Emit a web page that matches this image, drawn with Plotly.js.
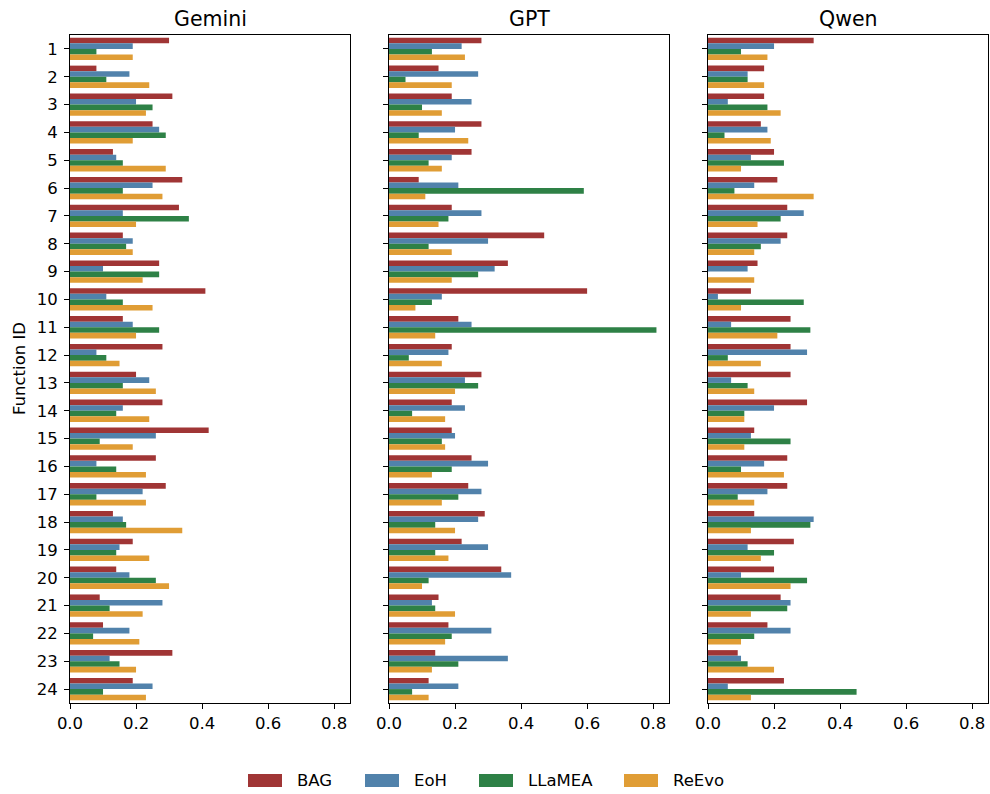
<!DOCTYPE html>
<html>
<head>
<meta charset="utf-8">
<script src="https://cdn.plot.ly/plotly-3.0.1.min.js"></script>
<style>
  html, body { margin: 0; padding: 0; background: #ffffff; }
  #chart { width: 990px; height: 794px; }
</style>
</head>
<body>
<div id="chart"></div>
<script>
// Function IDs (y categories, top to bottom)
const functionIds = ['1','2','3','4','5','6','7','8','9','10','11','12',
                     '13','14','15','16','17','18','19','20','21','22','23','24'];
const models = ['Gemini', 'GPT', 'Qwen'];
const methods = ['BAG', 'EoH', 'LLaMEA', 'ReEvo'];
const methodColors = ['#a03535', '#5182ab', '#2e8146', '#e09d35'];
const xTickVals = [0, 0.2, 0.4, 0.6, 0.8];
const xTickText = ['0.0', '0.2', '0.4', '0.6', '0.8'];

// Gemini
const geminiBAG    = [0.30,0.08,0.31,0.25,0.13,0.34,0.33,0.16,0.27,0.41,0.16,0.28,0.20,0.28,0.42,0.26,0.29,0.13,0.19,0.14,0.09,0.10,0.31,0.19];
const geminiEoH    = [0.19,0.18,0.20,0.27,0.14,0.25,0.16,0.19,0.10,0.11,0.19,0.08,0.24,0.16,0.26,0.08,0.22,0.16,0.15,0.18,0.28,0.18,0.12,0.25];
const geminiLLaMEA = [0.08,0.11,0.25,0.29,0.16,0.16,0.36,0.17,0.27,0.16,0.27,0.11,0.16,0.14,0.09,0.14,0.08,0.17,0.14,0.26,0.12,0.07,0.15,0.10];
const geminiReEvo  = [0.19,0.24,0.23,0.19,0.29,0.28,0.20,0.19,0.22,0.25,0.20,0.15,0.26,0.24,0.19,0.23,0.23,0.34,0.24,0.30,0.22,0.21,0.20,0.23];

// GPT
const gptBAG    = [0.28,0.15,0.19,0.28,0.25,0.09,0.19,0.47,0.36,0.60,0.21,0.19,0.28,0.19,0.19,0.25,0.24,0.29,0.22,0.34,0.15,0.18,0.14,0.12];
const gptEoH    = [0.22,0.27,0.25,0.20,0.19,0.21,0.28,0.30,0.32,0.16,0.25,0.18,0.23,0.23,0.20,0.30,0.28,0.27,0.30,0.37,0.13,0.31,0.36,0.21];
const gptLLaMEA = [0.13,0.05,0.10,0.09,0.12,0.59,0.18,0.12,0.27,0.13,0.81,0.06,0.27,0.07,0.16,0.19,0.21,0.14,0.14,0.12,0.14,0.19,0.21,0.07];
const gptReEvo  = [0.23,0.19,0.16,0.24,0.16,0.11,0.15,0.19,0.19,0.08,0.14,0.16,0.20,0.17,0.17,0.13,0.16,0.20,0.18,0.10,0.20,0.17,0.13,0.12];

// Qwen
const qwenBAG    = [0.32,0.17,0.17,0.16,0.20,0.21,0.24,0.24,0.15,0.13,0.25,0.25,0.25,0.30,0.14,0.24,0.24,0.14,0.26,0.20,0.22,0.18,0.09,0.23];
const qwenEoH    = [0.20,0.12,0.06,0.18,0.13,0.14,0.29,0.22,0.12,0.03,0.07,0.30,0.07,0.20,0.13,0.17,0.18,0.32,0.12,0.10,0.25,0.25,0.10,0.06];
const qwenLLaMEA = [0.10,0.12,0.18,0.05,0.23,0.08,0.22,0.16,0.00,0.29,0.31,0.06,0.12,0.11,0.25,0.10,0.09,0.31,0.20,0.30,0.24,0.14,0.12,0.45];
const qwenReEvo  = [0.18,0.17,0.22,0.19,0.10,0.32,0.15,0.14,0.14,0.10,0.21,0.16,0.14,0.11,0.11,0.23,0.14,0.13,0.16,0.25,0.13,0.10,0.20,0.13];

const seriesByModel = [
  [geminiBAG, geminiEoH, geminiLLaMEA, geminiReEvo],
  [gptBAG, gptEoH, gptLLaMEA, gptReEvo],
  [qwenBAG, qwenEoH, qwenLLaMEA, qwenReEvo]
];

const W = 990, H = 794;
const FONT = 'DejaVu Sans, sans-serif';
// panel frames in pixels
const panelLeft = [70, 389, 708];
const panelWidth = 280;
const plotTop = 35, plotBottom = 703;
const yDomain = [(H - plotBottom) / H, (H - plotTop) / H];

const traces = [];
seriesByModel.forEach((series, m) => {
  const sfx = m === 0 ? '' : String(m + 1);
  series.forEach((vals, k) => {
    traces.push({
      type: 'bar',
      orientation: 'h',
      name: methods[k],
      x: vals,
      y: functionIds,
      xaxis: 'x' + sfx,
      yaxis: 'y' + sfx,
      marker: { color: methodColors[k], line: { width: 0 } },
      showlegend: false,
      hoverinfo: 'x+y+name'
    });
  });
});

const layout = {
  width: W, height: H,
  margin: { l: 0, r: 0, t: 0, b: 0 },
  paper_bgcolor: '#ffffff',
  plot_bgcolor: '#ffffff',
  barmode: 'group',
  bargap: 0.2,
  bargroupgap: 0,
  font: { family: FONT, color: '#000000', size: 16.5 },
  showlegend: false,
  shapes: [],
  annotations: []
};

models.forEach((name, m) => {
  const sfx = m === 0 ? '' : String(m + 1);
  const x0 = panelLeft[m] / W, x1 = (panelLeft[m] + panelWidth) / W;
  layout['xaxis' + sfx] = {
    domain: [x0, x1],
    anchor: 'y' + sfx,
    range: [0, 0.848],
    tickvals: xTickVals,
    ticktext: xTickText,
    ticks: 'outside', ticklen: 5, tickwidth: 1, tickcolor: '#000',
    showline: true, mirror: true, linecolor: '#000', linewidth: 1,
    showgrid: false, zeroline: false,
    tickfont: { family: FONT, size: 16.5, color: '#000' },
    fixedrange: true
  };
  layout['yaxis' + sfx] = {
    domain: yDomain,
    anchor: 'x' + sfx,
    type: 'category',
    categoryorder: 'array',
    categoryarray: functionIds,
    autorange: 'reversed',
    ticks: 'outside', ticklen: 5, tickwidth: 1, tickcolor: '#000',
    showticklabels: m === 0,
    ticklabelstandoff: 3,
    showline: true, mirror: true, linecolor: '#000', linewidth: 1,
    showgrid: false, zeroline: false,
    tickfont: { family: FONT, size: 16.5, color: '#000' },
    fixedrange: true
  };
  // panel title
  layout.annotations.push({
    text: name, xref: 'paper', yref: 'paper',
    x: (x0 + x1) / 2, y: yDomain[1], xanchor: 'center', yanchor: 'bottom',
    yshift: 2, showarrow: false,
    font: { family: FONT, size: 20.5, color: '#000' }
  });
});

// y-axis title
layout.annotations.push({
  text: 'Function ID', xref: 'paper', yref: 'paper',
  x: 19 / W, y: (yDomain[0] + yDomain[1]) / 2, xanchor: 'center', yanchor: 'middle',
  textangle: -90, showarrow: false,
  font: { family: FONT, size: 16.5, color: '#000' }
});

// legend row along the bottom
const legendSwatchX = [248, 365, 479, 624];
const swatchW = 34, swatchTop = 774, swatchBottom = 787;
methods.forEach((meth, k) => {
  const sx = legendSwatchX[k];
  layout.shapes.push({
    type: 'rect', xref: 'paper', yref: 'paper',
    x0: sx / W, x1: (sx + swatchW) / W,
    y0: (H - swatchBottom) / H, y1: (H - swatchTop) / H,
    fillcolor: methodColors[k], line: { width: 0 }
  });
  layout.annotations.push({
    text: meth, xref: 'paper', yref: 'paper',
    x: (sx + swatchW + 13) / W, y: (H - (swatchTop + swatchBottom) / 2) / H,
    xanchor: 'left', yanchor: 'middle', showarrow: false,
    font: { family: FONT, size: 16.5, color: '#000' }
  });
});

Plotly.newPlot('chart', traces, layout, { displayModeBar: false, staticPlot: true });
</script>
</body>
</html>
